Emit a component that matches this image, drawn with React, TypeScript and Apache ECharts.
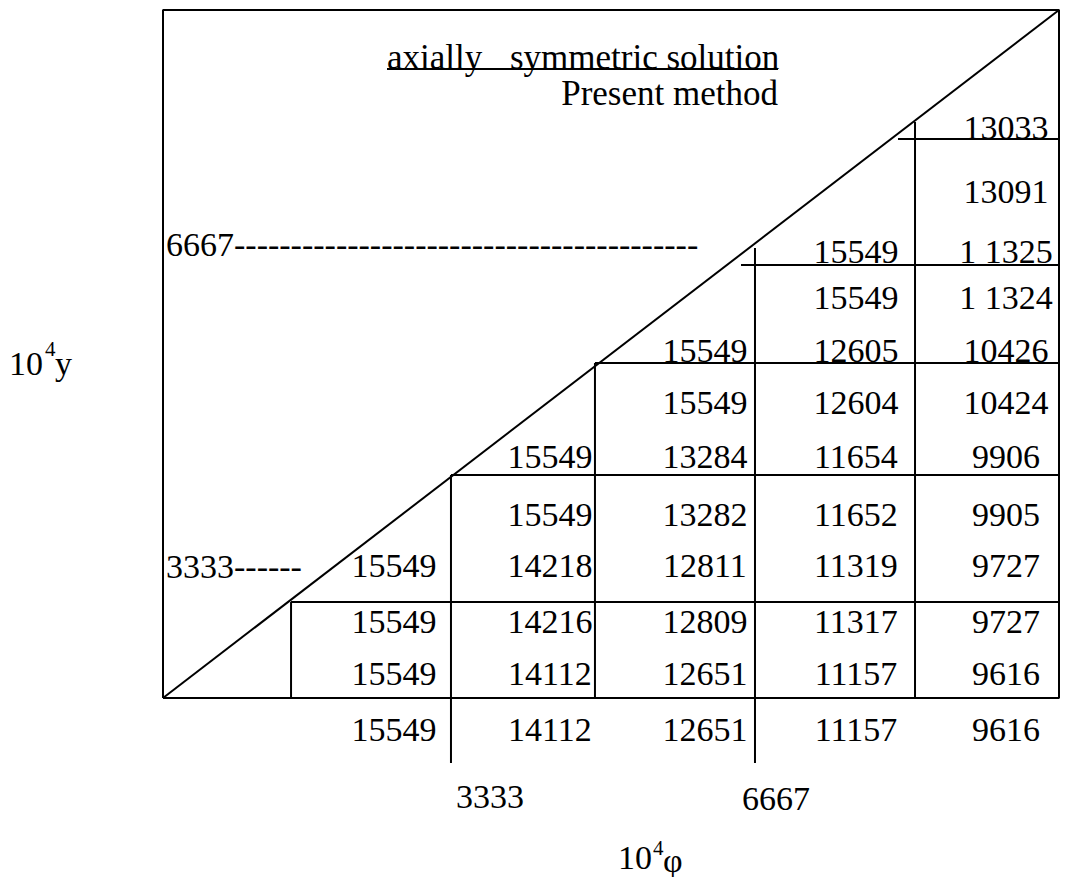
import React, { useEffect, useRef } from "react";
import * as echarts from "echarts";

// Mesh geometry in 10^4·φ (x) and 10^4·y (y) units
const boxOutline = [[0, 0], [10000, 0], [10000, 10000], [0, 10000], [0, 0]];
const diagonal = [[0, 0], [10000, 10000]];
// [phi, yTop, yBottom]
const verticalLines = [
  [1429, 1395, 0],
  [3214, 3241, -945],
  [4821, 4869, 0],
  [6607, 6541, -945],
  [8393, 8372, 0],
];
// [y, phiStart, phiEnd]
const horizontalLines = [
  [1395, 1429, 10000],
  [3241, 3214, 10000],
  [4869, 4821, 10000],
  [6294, 6451, 10067],
  [8125, 8203, 10000],
];

// Value table: column φ positions, row y positions
const colPhi = [2578, 4319, 6049, 7734, 9408];
const rowY = [8285, 7369, 6497, 5814, 5058, 4302, 3517, 2674, 1919, 1105, 349, -465];
const colStartRow = [8, 6, 4, 2, 0];

const col1 = ["15549", "15549", "15549", "15549"];
const col2 = ["15549", "15549", "14218", "14216", "14112", "14112"];
const col3 = ["15549", "15549", "13284", "13282", "12811", "12809", "12651", "12651"];
const col4 = ["15549", "15549", "12605", "12604", "11654", "11652", "11319", "11317", "11157", "11157"];
const col5 = ["13033", "13091", "1 1325", "1 1324", "10426", "10424", "9906", "9905", "9727", "9727", "9616", "9616"];
const columns = [col1, col2, col3, col4, col5];

const FONT = "Liberation Serif, Times New Roman, serif";

export default function App() {
  const ref = useRef<HTMLDivElement>(null);

  useEffect(() => {
    if (!ref.current) return;
    const chart = echarts.init(ref.current, null, { renderer: "svg" });

    const lineStyle = { color: "#000", width: 2 };
    const seg = (data: number[][]) => ({
      type: "line",
      data,
      symbol: "none",
      clip: false,
      silent: true,
      lineStyle,
      z: 2,
    });

    const series: any[] = [];
    series.push(seg(boxOutline));
    series.push(seg(diagonal));
    verticalLines.forEach(([p, y1, y2]) => series.push(seg([[p, y1], [p, y2]])));
    horizontalLines.forEach(([y, p1, p2]) => series.push(seg([[p1, y], [p2, y]])));

    columns.forEach((col, ci) => {
      series.push({
        type: "scatter",
        symbolSize: 1,
        clip: false,
        silent: true,
        itemStyle: { color: "rgba(0,0,0,0)", opacity: 1 },
        label: {
          show: true,
          position: "inside",
          align: "center",
          verticalAlign: "middle",
          fontFamily: FONT,
          fontSize: 34,
          color: "#000",
          opacity: 1,
          textBorderWidth: 0,
          formatter: (p: any) => p.value[2],
        },
        data: col.map((v, i) => [colPhi[ci], rowY[colStartRow[ci] + i], v]),
        z: 3,
      });
    });

    const txt = (text: string, x: number, y: number, size = 34, align = "left") => ({
      type: "text",
      x,
      y,
      silent: true,
      style: {
        text,
        fill: "#000",
        font: `${size}px ${FONT}`,
        textAlign: align,
        textVerticalAlign: "middle",
      },
    });

    const graphic: any[] = [
      txt("axially", 387, 57, 35),
      txt("symmetric solution", 510, 57, 35),
      {
        type: "line",
        silent: true,
        shape: { x1: 387, y1: 69, x2: 778, y2: 69 },
        style: { stroke: "#000", lineWidth: 2 },
      },
      txt("Present method", 778, 93, 35, "right"),
      txt("6667" + "-".repeat(41), 166, 244),
      txt("3333------", 166, 566),
      txt("3333", 456, 796),
      txt("6667", 742, 798),
      txt("10", 9, 363),
      txt("4", 45, 349, 21),
      txt("y", 55, 363),
      txt("10", 618, 857),
      txt("4", 653, 848, 21),
      txt("φ", 663, 860),
    ];

    chart.setOption({
      animation: false,
      grid: { left: 163, top: 10, width: 896, height: 688, containLabel: false },
      xAxis: { type: "value", min: 0, max: 10000, show: false },
      yAxis: { type: "value", min: 0, max: 10000, show: false },
      series,
      graphic,
    });

    return () => chart.dispose();
  }, []);

  return (
    <div
      ref={ref}
      style={{ position: "absolute", left: 0, top: 0, width: 1067, height: 877, background: "#fff" }}
    />
  );
}
